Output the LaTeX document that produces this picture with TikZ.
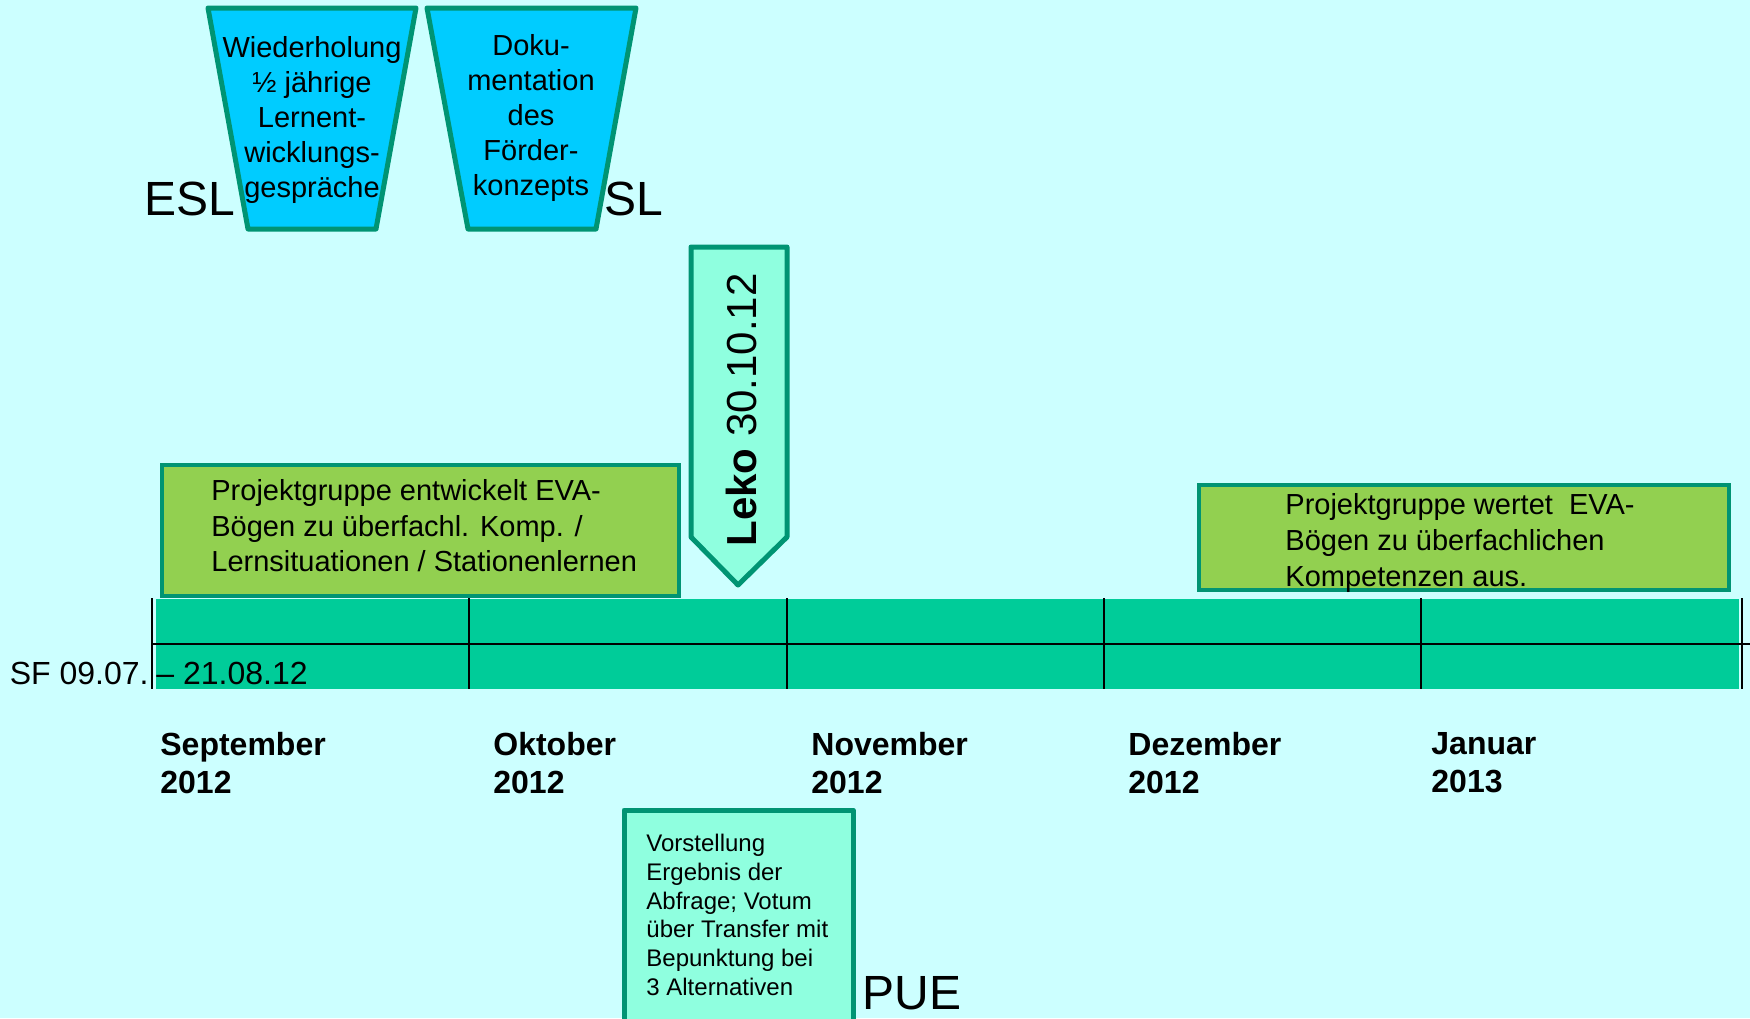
\documentclass[tikz,border=0pt]{standalone}
\usepackage{fontspec}
\setmainfont{Liberation Sans}
\definecolor{bg}{HTML}{CCFFFF}
\definecolor{sky}{HTML}{00CCFF}
\definecolor{dgreen}{HTML}{009473}
\definecolor{lgreen}{HTML}{92D050}
\definecolor{bandc}{HTML}{00CC99}
\definecolor{aqua}{HTML}{8FFFDF}
\tikzset{
  trapbox/.style={fill=sky, draw=dgreen, line width=2.5pt, line join=round},
  greenbox/.style={fill=lgreen, draw=dgreen, line width=2pt},
  aquabox/.style={fill=aqua, draw=dgreen, line width=2.5pt, line join=round},
  sepline/.style={draw=black, line width=1pt},
  traptext/.style={align=center, inner sep=0pt, font=\fontsize{14.5}{17.5}\selectfont},
  boxtext/.style={align=left, anchor=west, inner sep=0pt, font=\fontsize{14.5}{17.8}\selectfont},
  bigtext/.style={inner sep=0pt, font=\fontsize{24}{28}\selectfont},
  monthtext/.style={align=left, anchor=west, inner sep=0pt, font=\fontsize{16}{19}\selectfont\bfseries},
  sftext/.style={inner sep=0pt, font=\fontsize{16}{19}\selectfont}
}
\begin{document}
\begin{tikzpicture}[x=0.5pt,y=-0.5pt]
\fill[bg] (0,0) rectangle (1750,1018);
\useasboundingbox (0,0) rectangle (1750,1018);
\clip (0,0) rectangle (1750,1018);

% trapezoids
\draw[trapbox] (208,8) -- (416,8) -- (376,229) -- (248,229) -- cycle;
\node[traptext] (t1) at (312,120) {Wiederholung\\½ jährige\\Lernent-\\wicklungs-\\gespräche};
\draw[trapbox] (427,8) -- (636,8) -- (596,229) -- (468,229) -- cycle;
\node[traptext] (t2) at (531,118) {Doku-\\mentation\\des\\Förder-\\konzepts};
\node[bigtext] (esl) at (190,199) {ESL};
\node[bigtext] (sl) at (634,199) {SL};

% Leko arrow
\draw[aquabox] (691,247) -- (787,247) -- (787,537) -- (738,585) -- (691,537) -- cycle;
\node[rotate=90, inner sep=0pt, font=\fontsize{21}{25}\selectfont] (leko) at (741,410) {\textbf{Leko} 30.10.12};

% green boxes
\draw[greenbox] (162,465) rectangle (679,596);
\node[boxtext] (g1) at (211,526) {Projektgruppe entwickelt EVA-\\Bögen zu überfachl. Komp. /\\Lernsituationen / Stationenlernen};
\draw[greenbox] (1199,485) rectangle (1729,590);
\node[boxtext] (g2) at (1285,543) {Projektgruppe wertet\ \ EVA-\\Bögen zu überfachlichen\\Kompetenzen aus.};

% timeline band
\fill[bandc] (156,599) rectangle (1739,689);
\draw[sepline] (152,644) -- (1750,644);
\foreach \xx in {152,469,787,1104,1421,1742} {
  \draw[sepline] (\xx,598) -- (\xx,689);
}
\node[sftext, anchor=east] (sf1) at (149,673) {SF 09.07.};
\node[sftext, anchor=west] (sf2) at (156,673) {– 21.08.12};

% months
\node[monthtext] (m1) at (160,763) {September\\2012};
\node[monthtext] (m2) at (493,763) {Oktober\\2012};
\node[monthtext] (m3) at (811,763) {November\\2012};
\node[monthtext] (m4) at (1128,763) {Dezember\\2012};
\node[monthtext] (m5) at (1431,763) {Januar\\2013};

% bottom box
\draw[aquabox] (624,810) rectangle (853,1040);
\node[align=left, anchor=west, inner sep=0pt, font=\fontsize{12}{14.4}\selectfont] (b1) at (646,915) {Vorstellung\\Ergebnis der\\Abfrage; Votum\\über Transfer mit\\Bepunktung bei\\3 Alternativen};
\node[bigtext] (pue) at (912,993) {PUE};
\end{tikzpicture}
\end{document}
